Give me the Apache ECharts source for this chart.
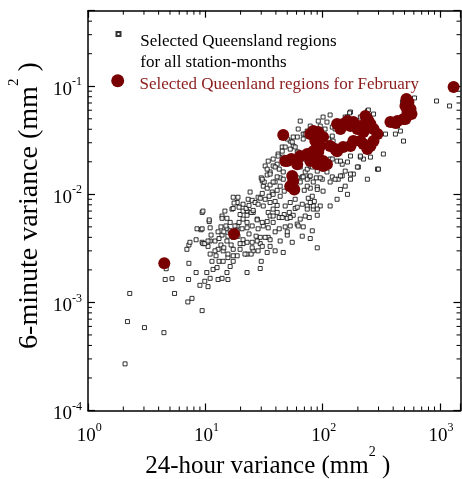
<!DOCTYPE html>
<html>
<head>
<meta charset="utf-8">
<script src="https://cdn.jsdelivr.net/npm/echarts@6/dist/echarts.min.js"></script>
<style>
  html, body { margin: 0; padding: 0; background: #fff; }
  #chart { width: 462px; height: 479px; }
</style>
</head>
<body>
<div id="chart"></div>
<script>
// === DATA ===
const allName = "Selected Queensland regions\nfor all station-months";
const febName = "Selected Queenland regions for February";

// [24-hour variance, 6-minute variance], all station-months
const allStationMonths = [
  [2.27,0.00121],[2.17,0.000665],[3.03,0.000585],[4.44,0.000525],[2.07,0.00027],[5.47,0.00121],[4.55,0.00163],[5.2,0.00166],[4.64,0.00205],[7.2,0.00163],
  [7.1,0.00101],[7.7,0.00109],[9.4,0.00084],[9.0,0.00144],[9.9,0.00157],[10.55,0.0014],[11.0,0.00167],[8.35,0.00189],[7.25,0.0023],[6.97,0.0031],
  [7.25,0.0034],[8.35,0.0038],[9.4,0.0068],[9.2,0.0047],[9.4,0.0036],[10.8,0.0056],[11.0,0.0028],[11.65,0.00202],[12.85,0.00163],[13.9,0.00167],
  [15.6,0.00163],[10.3,0.00189],[11.4,0.0024],[12.35,0.0027],[13.1,0.0024],[14.2,0.0024],[15.6,0.0026],[16.3,0.00215],[15.3,0.00189],[12.6,0.0021],
  [22.7,0.00189],[29.4,0.00206],[30.0,0.0024],[17.3,0.0024],[18.7,0.0027],[22.7,0.0028],[25.6,0.0030],[29.4,0.0040],[25.1,0.0036],[21.0,0.0035],
  [17.3,0.0031],[14.2,0.0030],[11.0,0.0037],[12.85,0.0045],[15.3,0.0048],[17.3,0.0043],[16.3,0.0055],[18.7,0.0051],[20.6,0.0048],[13.9,0.0063],
  [14.7,0.0070],[16.9,0.0073],[18.7,0.0084],[17.3,0.0094],[19.0,0.0094],[21.0,0.0081],[23.2,0.0090],[24.1,0.0105],[28.2,0.0094],[31.2,0.0119],
  [30.6,0.0133],[22.7,0.0070],[25.6,0.0068],[27.7,0.0059],[31.2,0.0051],[34.4,0.0040],[8.5,0.0048],[9.55,0.0035],[7.4,0.0036],[10.55,0.0033],
  [9.55,0.0070],[10.8,0.0058],[11.0,0.0049],[9.4,0.0048],[9.9,0.0035],[10.55,0.0037],[11.2,0.0042],[12.1,0.0037],[13.1,0.0039],[13.6,0.0034],
  [12.85,0.0031],[14.4,0.0032],[15.3,0.0037],[13.9,0.0042],[15.6,0.0041],[16.3,0.0046],[14.4,0.0045],[13.6,0.0050],[15.0,0.0051],[13.9,0.0060],
  [15.3,0.0060],[17.3,0.0074],[19.4,0.0076],[17.6,0.0083],[19.8,0.0065],[21.0,0.0070],[22.3,0.0074],[22.7,0.0064],[24.6,0.0068],[25.6,0.0071],
  [23.6,0.0079],[25.1,0.0088],[26.6,0.0084],[28.2,0.0081],[29.4,0.0092],[30.6,0.0102],[30.0,0.0142],[31.8,0.0130],[33.7,0.0114],[35.7,0.0122],
  [37.2,0.0105],[35.0,0.0096],[32.4,0.0090],[31.2,0.0078],[34.4,0.0068],[35.7,0.0063],[37.9,0.0073],[41.0,0.0079],[41.0,0.0068],[42.7,0.0061],
  [47.1,0.0065],[50.0,0.0060],[52.0,0.0068],[56.2,0.0064],[58.4,0.0074],[64.5,0.0059],[71.1,0.0063],[77.0,0.0061],[74.0,0.0078],[83.3,0.0073],
  [90.1,0.0064],[75.5,0.0092],[85,0.0086],[78.5,0.0114],[90.1,0.0117],[69.8,0.0109],[64.5,0.0130],[60.8,0.0142],[77.0,0.0145],[88.4,0.0142],
  [42.7,0.0171],[46.2,0.0161],[41.0,0.0190],[37.9,0.0183],[35.7,0.0161],[33.7,0.0151],[39.4,0.0130],[43.5,0.0142],[47.1,0.0107],[41.0,0.0109],
  [43.5,0.0096],[37.9,0.0100],[21.0,0.0059],[22.7,0.0055],[19.4,0.0055],[17.9,0.0051],[18.7,0.0046],[22.7,0.0049],[25.1,0.0051],[23.6,0.0043],
  [27.1,0.0041],[28.2,0.0048],[34.4,0.0049],[37.9,0.0055],[27.7,0.0058],[30.6,0.0055],[29.4,0.0035],[32.4,0.0040],[35.7,0.0038],[39.4,0.0045],
  [42.7,0.0048],[48.0,0.0050],[53.0,0.0051],[60.8,0.0053],[68.4,0.0050],[35.7,0.0033],[30.6,0.0033],[27.7,0.0037],[21.0,0.0038],[19.0,0.0041],
  [17.3,0.0040],[16.6,0.0034],[19.8,0.0035],[22.7,0.0036],[25.1,0.0032],[12.1,0.0030],[15.6,0.0028],[17.3,0.0027],[19.8,0.0031],[24.6,0.0028],
  [21.8,0.0028],[28.2,0.0030],[33.7,0.0029],[39.4,0.0030],[46.2,0.0029],[55.1,0.0036],[67.1,0.0041],[78.5,0.0039],[90.1,0.0032],[50.0,0.0042],
  [43.5,0.0037],[33.7,0.0056],[53.0,0.0311],[60.8,0.0339],[50.0,0.0325],[56.2,0.0280],[53.0,0.0262],[45.3,0.0274],[41.8,0.0236],[46.2,0.0221],
  [60.8,0.0221],[68.4,0.0212],[62.0,0.0246],[71.1,0.0161],[74.0,0.0171],[81.7,0.0246],[88.4,0.0298],[68.4,0.0361],[83.3,0.0385],[78.5,0.0183],
  [480,0.0715],[173,0.0578],[116,0.0542],[241,0.0590],[91.9,0.0476],[109,0.0466],[95.5,0.0428],[74.0,0.0385],[71.1,0.0361],[121,0.0419],
  [128,0.0402],[156,0.0519],[166,0.0497],[272,0.0553],[344,0.0361],[418,0.0361],[461,0.0385],[490,0.0311],[435,0.0428],[56.2,0.0339],
  [55.1,0.0305],[58.4,0.0274],[60.8,0.0246],[48.0,0.0274],[45.3,0.0251],[41.8,0.0226],[37.9,0.0212],[34.4,0.0203],[32.4,0.0183],[33.7,0.0171],
  [30.6,0.0138],[35.7,0.0154],[39.4,0.0179],[41.0,0.0145],[37.9,0.0130],[43.5,0.0119],[46.2,0.0138],[64.5,0.0179],[81.7,0.0179],[90.1,0.0164],
  [99.4,0.0183],[116,0.0212],[133,0.0203],[147,0.0190],[156,0.0164],[147,0.0148],[136,0.0138],[121,0.0145],[109,0.0161],[99.4,0.0138],
  [83.3,0.0130],[74.0,0.0138],[67.1,0.0145],[173,0.0138],[183,0.0154],[202,0.0179],[241,0.0138],[294,0.0171],[223,0.0212],[256,0.0221],
  [330,0.0236],[121,0.0346],[112,0.0325],[123,0.0311],[105,0.0402],[78.5,0.0428],[68.4,0.0325],[62.0,0.0402],[64.5,0.0476],[300,0.0171],
  [210,0.0221],[198,0.0179],[173,0.0154],[163,0.0100],[142,0.0111],[156,0.0119],[133,0.0090],[116,0.0130],[128,0.0138],[142,0.0148],
  [121,0.0212],[101,0.0107],[90.1,0.0111],[81.7,0.0096],[116,0.0078],[95.5,0.0078],[90.1,0.0073],[83.3,0.0078],[78.5,0.0084],[74.0,0.0073],
  [67.1,0.0081],[60.8,0.0076],[58.4,0.0090],[53.0,0.0084],[48.0,0.0078],[39.4,0.0086],[35.7,0.0084],[53.0,0.0061],[45.3,0.0061],[37.9,0.0063],
  [81.7,0.0046],[62.0,0.0051],[50.0,0.0045],[74.0,0.0119],[68.4,0.0145],[78.5,0.0148],[95.5,0.0142],[105,0.0183],[142,0.0203],[163,0.0199],
  [173,0.0226],[210,0.0226],[241,0.0262],[608,0.0779],[937,0.073],[1210,0.0657],[246,0.0603],[170,0.0566],[101,0.0519],[163,0.0519],
  [210,0.0519]
];

// [24-hour variance, 6-minute variance], February only
const februaryMonths = [
  [1310,0.0985],[4.47,0.0023],[17.6,0.0043],[46.2,0.0354],
  [50.0,0.0203],[55.1,0.0148],[56.2,0.0133],[53.0,0.0119],[57.4,0.0111],
  [48.0,0.0203],[54.1,0.0212],[60.8,0.019],[64.5,0.0226],[74.0,0.0236],[78.5,0.0203],[83.3,0.0251],[90.1,0.019],[95.5,0.028],
  [101,0.0203],[109,0.019],[95.5,0.019],[90.1,0.0212],[86.7,0.0311],[78.5,0.0361],[83.3,0.0385],[91.9,0.0377],[101,0.0339],
  [116,0.028],[128,0.0262],[133,0.0251],[150,0.0274],[142,0.0402],[150,0.0447],[133,0.0447],[163,0.0476],[173,0.0428],
  [183,0.0466],[198,0.0402],[210,0.0428],[223,0.0377],[241,0.0497],[246,0.0476],[256,0.0447],[272,0.0402],[294,0.0361],
  [272,0.0311],[256,0.028],[241,0.0262],[223,0.0292],[210,0.0311],[173,0.028],[183,0.0311],[101,0.0183],[78.5,0.0226],
  [91.9,0.0246],[232,0.053],
  [379,0.0466],[435,0.0476],[490,0.0497],[530,0.0578],[509,0.0657],[540,0.0715],[562,0.0616],[519,0.0762],[573,0.0553],
  [509,0.0497],[418,0.0457]
];

const xRange = [1, 1500];
const yRange = [1e-4, 0.5];
const xDecades = [1, 10, 100, 1000];
const yDecades = [1e-4, 1e-3, 1e-2, 1e-1];
const minorSteps = [2, 3, 4, 5, 6, 7, 8, 9];

const FONT = "Liberation Serif";
const RED = "#780000";
const RED_TEXT = "#8b1c1c";

// === CHART ===
const chart = echarts.init(document.getElementById("chart"));

const powerLabel = (v) => {
    const e = Math.log10(v);
    if (Math.abs(e - Math.round(e)) > 1e-6) return "";
    return "{b|10}{e|" + Math.round(e) + "}";
};

const xLabelRich = {
    b: { fontFamily: FONT, fontSize: 19, color: "#000" },
    e: { fontFamily: FONT, fontSize: 12, color: "#000", padding: [0, 0, 16, 0] },
};
// "10" pushed down a little, exponent up, so the base sits just under the tick
const yLabelRich = {
    b: { fontFamily: FONT, fontSize: 19, color: "#000", padding: [8, 0, 0, 0] },
    e: { fontFamily: FONT, fontSize: 12, color: "#000", padding: [0, 0, 8, 0] },
};

const boxLine = { show: true, onZero: false, lineStyle: { color: "#000", width: 1.5 } };
const majorTick = { show: true, inside: true, length: 7, lineStyle: { color: "#000", width: 1.2 } };

const option = {
    animation: false,
    backgroundColor: "#fff",
    grid: {
        left: 88, right: 1.5, top: 10.7, bottom: 68.5,
        containLabel: false,
        outerBoundsMode: "none",
    },
    legend: [
        {
            data: [allName],
            left: 115.5,
            top: 12,
            padding: 0,
            itemWidth: 4,
            itemHeight: 4,
            selectedMode: false,
            formatter: () => "{p| }\n{a|Selected Queensland regions}\n{a|for all station-months}",
            textStyle: {
                fontFamily: FONT, fontSize: 17, color: "#000",
                padding: [0, 0, 0, 14.8],
                rich: {
                    p: { fontSize: 1, lineHeight: 36 },
                    a: { fontFamily: FONT, fontSize: 17, color: "#000", lineHeight: 21.5 },
                },
            },
        },
        {
            data: [febName],
            left: 111.2,
            top: 69.5,
            padding: 0,
            itemWidth: 13,
            itemHeight: 13,
            selectedMode: false,
            formatter: (name) => "{p| }\n{a|" + name + "}",
            textStyle: {
                fontFamily: FONT, fontSize: 17, color: RED_TEXT,
                padding: [0, 0, 0, 10.3],
                rich: {
                    p: { fontSize: 1, lineHeight: 7 },
                    a: { fontFamily: FONT, fontSize: 17, color: RED_TEXT, lineHeight: 21.5 },
                },
            },
        },
    ],
    xAxis: [
        {
            type: "log",
            logBase: 10,
            min: xRange[0],
            max: xRange[1],
            position: "bottom",
            axisLine: boxLine,
            axisTick: majorTick,
            splitLine: { show: false },
            axisLabel: {
                margin: 11.5,
                formatter: powerLabel,
                rich: xLabelRich,
                padding: [0, 0, 0, 2.5],
            },
            name: "24-hour variance (mm{s|2} )",
            nameLocation: "middle",
            nameGap: 34.5,
            nameMoveOverlap: false,
            nameTextStyle: {
                fontFamily: FONT, fontSize: 25, color: "#000",
                padding: [0, 13, 0, 0],
                rich: { s: { fontFamily: FONT, fontSize: 14, color: "#000", padding: [0, 0, 28, 0] } },
            },
        },
        {
            type: "log",
            logBase: 10,
            min: xRange[0],
            max: xRange[1],
            position: "top",
            axisLine: boxLine,
            axisTick: majorTick,
            axisLabel: { show: false },
            splitLine: { show: false },
        },
    ],
    yAxis: [
        {
            type: "log",
            logBase: 10,
            min: yRange[0],
            max: yRange[1],
            position: "left",
            axisLine: boxLine,
            axisTick: majorTick,
            splitLine: { show: false },
            axisLabel: {
                margin: 6,
                formatter: powerLabel,
                rich: yLabelRich,
            },
            name: "6-minute variance (mm{s|2} )",
            nameLocation: "middle",
            nameRotate: 90,
            nameGap: 36,
            nameMoveOverlap: false,
            nameTextStyle: {
                fontFamily: FONT, fontSize: 28, color: "#000",
                padding: [0, 0, 0, 10],
                rich: { s: { fontFamily: FONT, fontSize: 15, color: "#000", padding: [0, 0, 30, 0] } },
            },
        },
        {
            type: "log",
            logBase: 10,
            min: yRange[0],
            max: yRange[1],
            position: "right",
            axisLine: boxLine,
            axisTick: majorTick,
            axisLabel: { show: false },
            splitLine: { show: false },
        },
    ],
    series: [
        {
            name: allName,
            type: "scatter",
            xAxisIndex: 0,
            yAxisIndex: 0,
            symbol: "rect",
            symbolSize: 4,
            itemStyle: { color: "#fff", borderColor: "#000", borderWidth: 1 },
            data: allStationMonths,
            z: 2,
        },
        {
            name: febName,
            type: "scatter",
            xAxisIndex: 0,
            yAxisIndex: 0,
            symbol: "circle",
            symbolSize: 12,
            itemStyle: { color: RED, opacity: 1 },
            data: februaryMonths,
            z: 3,
        },
    ],
};

chart.setOption(option);

// === MINOR TICKS (2..9 within each decade, pointing inward on all four sides) ===
const drawMinorTicks = () => {
    const lines = [];
    const style = { stroke: "#000", lineWidth: 1 };
    const len = 4;
    const top = chart.convertToPixel({ yAxisIndex: 0 }, yRange[1]);
    const bottom = chart.convertToPixel({ yAxisIndex: 0 }, yRange[0]);
    const left = chart.convertToPixel({ xAxisIndex: 0 }, xRange[0]);
    const right = chart.convertToPixel({ xAxisIndex: 0 }, xRange[1]);

    xDecades.forEach((d) => {
        minorSteps.forEach((m) => {
            const v = d * m;
            if (v >= xRange[1]) return;
            const px = chart.convertToPixel({ xAxisIndex: 0 }, v);
            lines.push({ type: "line", silent: true, shape: { x1: px, y1: bottom, x2: px, y2: bottom - len }, style });
            lines.push({ type: "line", silent: true, shape: { x1: px, y1: top, x2: px, y2: top + len }, style });
        });
    });
    yDecades.forEach((d) => {
        minorSteps.forEach((m) => {
            const v = d * m;
            if (v >= yRange[1]) return;
            const py = chart.convertToPixel({ yAxisIndex: 0 }, v);
            lines.push({ type: "line", silent: true, shape: { x1: left, y1: py, x2: left + len, y2: py }, style });
            lines.push({ type: "line", silent: true, shape: { x1: right, y1: py, x2: right - len, y2: py }, style });
        });
    });
    chart.setOption({ graphic: [{ type: "group", children: lines }] });
};

drawMinorTicks();
</script>
</body>
</html>
